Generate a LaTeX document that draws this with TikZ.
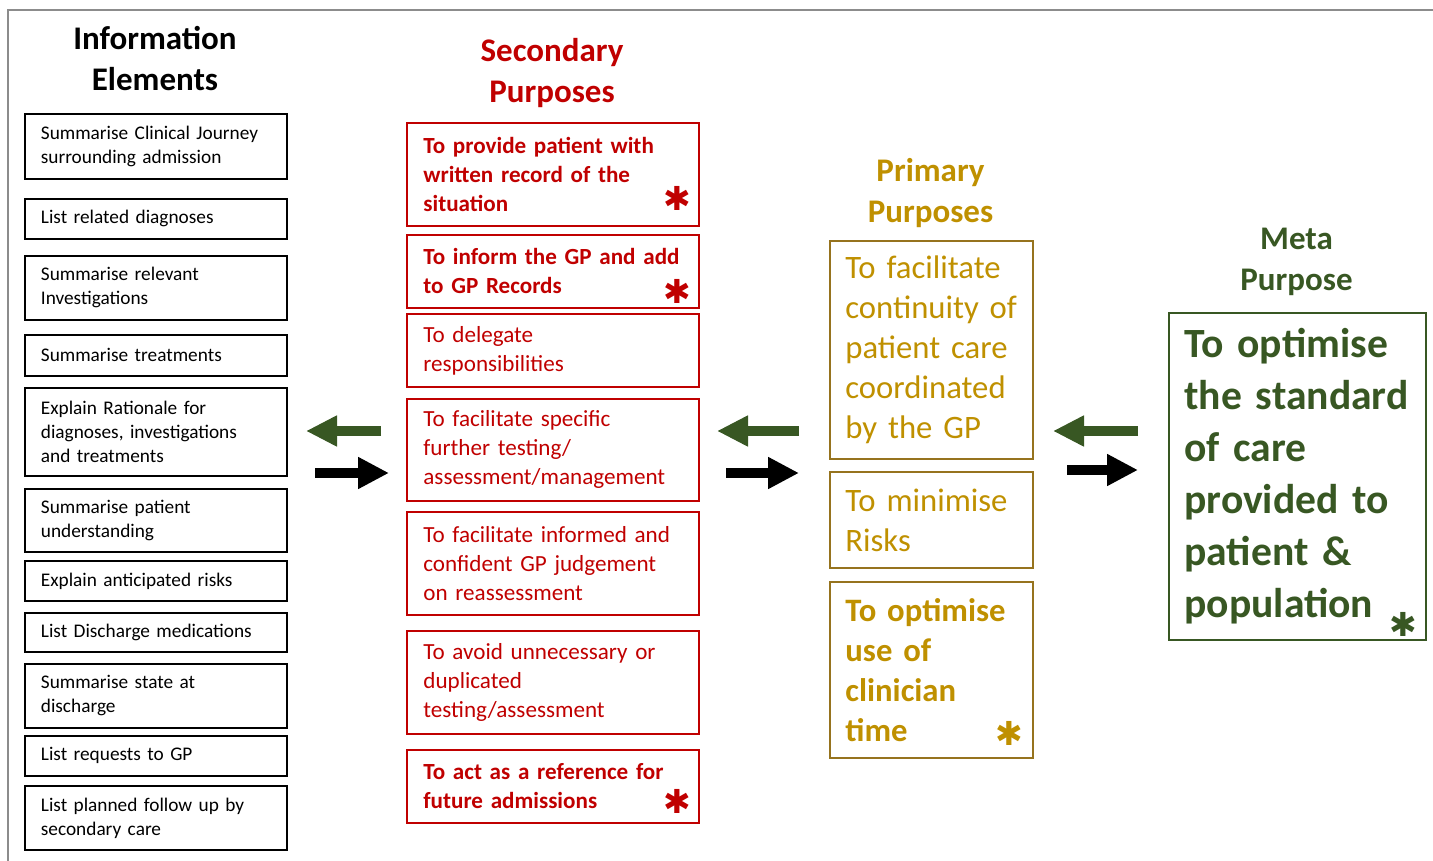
\documentclass[tikz,border=0pt]{standalone}
\usepackage{fontspec}
\setmainfont{Carlito}
\newfontfamily\starfont{DejaVu Sans}
\usetikzlibrary{arrows.meta,positioning}

\definecolor{spred}{RGB}{192,0,0}
\definecolor{ppgold}{RGB}{191,144,0}
\definecolor{ppline}{RGB}{150,115,30}
\definecolor{mpgreen}{RGB}{56,87,35}
\definecolor{framegray}{RGB}{140,140,140}

\begin{document}
\begin{tikzpicture}[x=1pt, y=-1pt,
  heading/.style={align=center, font=\fontsize{33}{41}\selectfont\bfseries},
  element/.style={draw=black, line width=1.8pt, anchor=north west, align=left,
    inner xsep=16pt, inner ysep=0pt, text width=230pt, minimum height=#1,
    font=\fontsize{19.3}{24}\selectfont},
  secondary/.style={draw=spred, text=spred, line width=1.8pt, anchor=north west,
    align=left, inner xsep=16.5pt, inner ysep=0pt, text width=259pt,
    minimum height=#1, font=\fontsize{23.1}{29}\selectfont},
  primary/.style={draw=ppline, text=ppgold, line width=1.8pt, anchor=north west,
    align=left, inner xsep=15.5pt, inner ysep=0pt, text width=172pt,
    minimum height=#1, font=\fontsize{32.7}{40}\selectfont},
  meta/.style={draw=mpgreen, text=mpgreen, line width=1.8pt, anchor=north west,
    align=left, inner xsep=15.5pt, inner ysep=0pt, text width=226pt,
    minimum height=#1, font=\fontsize{41.6}{52}\selectfont\bfseries},
  star/.style={anchor=center, inner sep=0pt, font=\starfont\fontsize{33}{33}\selectfont},
  back/.style={mpgreen, line width=10pt, -{Triangle[length=31pt,width=29pt]}},
  forth/.style={black, line width=10pt, -{Triangle[length=31pt,width=30pt]}}
]
  \useasboundingbox (0,0) rectangle (1433,861);

  % Frame
  \draw[framegray, line width=2pt] (7.5,861) -- (7.5,10.5) -- (1433,10.5);

  % Column headings
  \node[heading] (ieh) at (155,58.5) {Information\\Elements};
  \node[heading, text=spred] (sph) at (552,73.5) {Secondary\\Purposes};
  \node[heading, text=ppgold] (pph) at (930.5,193.5) {Primary\\Purposes};
  \node[heading, text=mpgreen] (mph) at (1296.5,261.5) {Meta\\Purpose};

  % Information elements
  \node[element=65pt] (ie1) at (24,113) {Summarise Clinical Journey\\surrounding admission};
  \node[element=40pt] (ie2) at (24,198) {List related diagnoses};
  \node[element=64pt] (ie3) at (24,255) {Summarise relevant\\Investigations};
  \node[element=41pt] (ie4) at (24,334) {Summarise treatments};
  \node[element=88pt] (ie5) at (24,387) {Explain Rationale for\\diagnoses, investigations\\and treatments};
  \node[element=63pt] (ie6) at (24,488) {Summarise patient\\understanding};
  \node[element=40pt] (ie7) at (24,560) {Explain anticipated risks};
  \node[element=39pt] (ie8) at (24,612) {List Discharge medications};
  \node[element=64pt] (ie9) at (24,663) {Summarise state at\\discharge};
  \node[element=40pt] (ie10) at (24,735) {List requests to GP};
  \node[element=64pt] (ie11) at (24,785) {List planned follow up by\\secondary care};

  % Secondary purposes
  \node[secondary=103pt] (sp1) at (406,122) {\bfseries To provide patient with\\written record of the\\situation};
  \node[secondary=73pt] (sp2) at (406,234) {\bfseries To inform the GP and add\\to GP Records};
  \node[secondary=73pt] (sp3) at (406,313) {To delegate\\responsibilities};
  \node[secondary=102pt] (sp4) at (406,398) {To facilitate specific\\further testing/\\assessment/management};
  \node[secondary=103pt] (sp5) at (406,511) {To facilitate informed and\\confident GP judgement\\on reassessment};
  \node[secondary=103pt] (sp6) at (406,630) {To avoid unnecessary or\\duplicated\\testing/assessment};
  \node[secondary=73pt] (sp7) at (406,749) {\bfseries To act as a reference for\\future admissions};

  % Primary purposes
  \node[primary=218pt] (pp1) at (829,240) {To facilitate\\continuity of\\patient care\\coordinated\\by the GP};
  \node[primary=96pt] (pp2) at (829,471) {To minimise\\Risks};
  \node[primary=176pt] (pp3) at (829,581) {\bfseries To optimise\\use of\\clinician\\time};

  % Meta purpose
  \node[meta=327pt] (mp1) at (1168,312) {To optimise\\the standard\\of care\\provided to\\patient \&\\population};

  % Asterisks
  \node[star, text=spred] (sp1s) at ([shift={(-22,-28)}]sp1.south east) {✱};
  \node[star, text=spred] (sp2s) at ([shift={(-22,-17)}]sp2.south east) {✱};
  \node[star, text=spred] (sp7s) at ([shift={(-22,-22)}]sp7.south east) {✱};
  \node[star, text=ppgold] (pp3s) at ([shift={(-24,-25)}]pp3.south east) {✱};
  \node[star, text=mpgreen] (mp1s) at ([shift={(-23,-16)}]mp1.south east) {✱};

  % Arrows between columns
  \coordinate (b1s) at (381,431);  \coordinate (b1e) at (306,431);
  \coordinate (f1s) at (315,473);  \coordinate (f1e) at (389,473);
  \coordinate (b2s) at (799,431);  \coordinate (b2e) at (717,431);
  \coordinate (f2s) at (726,473);  \coordinate (f2e) at (799,473);
  \coordinate (b3s) at (1138,431); \coordinate (b3e) at (1053,431);
  \coordinate (f3s) at (1067,470); \coordinate (f3e) at (1138,470);

  \draw[back] (b1s) -- (b1e);
  \draw[forth] (f1s) -- (f1e);
  \draw[back] (b2s) -- (b2e);
  \draw[forth] (f2s) -- (f2e);
  \draw[back] (b3s) -- (b3e);
  \draw[forth] (f3s) -- (f3e);

\end{tikzpicture}
\end{document}
